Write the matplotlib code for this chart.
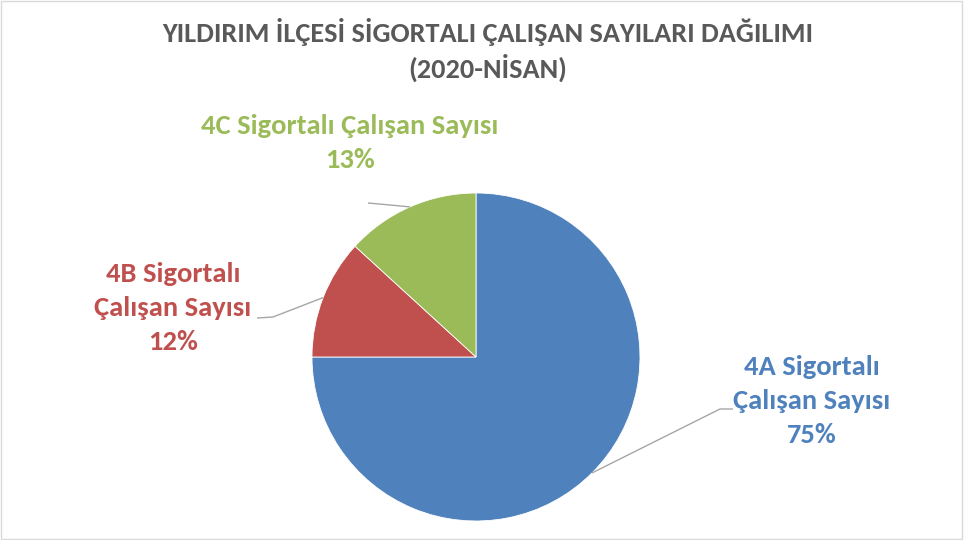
import matplotlib
matplotlib.use("Agg")
import matplotlib.pyplot as plt
import numpy as np

title = "YILDIRIM İLÇESİ SİGORTALI ÇALIŞAN SAYILARI DAĞILIMI\n(2020-NİSAN)"
categories = ["4A Sigortalı\nÇalışan Sayısı", "4B Sigortalı\nÇalışan Sayısı", "4C Sigortalı Çalışan Sayısı"]
values = [75.0, 11.8, 13.2]
percent_labels = ["75%", "12%", "13%"]
colors = ["#4F81BD", "#C0504D", "#9BBB59"]

W, H = 971, 540
fig = plt.figure(figsize=(W / 100, H / 100), dpi=100)
ax = fig.add_axes([0, 0, 1, 1])

FONT = ["Carlito", "Liberation Sans Narrow", "DejaVu Sans"]

cx, cy, r = 476, H - 357, 164
wedges, _ = ax.pie(values, colors=colors, startangle=90, counterclock=False,
                   center=(cx, cy), radius=r, frame=True,
                   wedgeprops=dict(edgecolor="white", linewidth=0.6))
ax.set_xlim(0, W)
ax.set_ylim(0, H)
ax.set_aspect("equal")
ax.axis("off")

# label positions (pixel space), elbows
label_pos = [(812, H - 401), (173, H - 308), (350, H - 143)]
elbows = [[(720, H - 409), (733, H - 409)],
          [(273, H - 317), (257, H - 318)],
          [(390, H - 205), (368, H - 203)]]

for w, lab, pct, col, pos, elb in zip(wedges, categories, percent_labels, colors, label_pos, elbows):
    mid = np.deg2rad((w.theta1 + w.theta2) / 2)
    ex, ey = cx + r * np.cos(mid), cy + r * np.sin(mid)
    xs = [ex] + [p[0] for p in elb]
    ys = [ey] + [p[1] for p in elb]
    ax.plot(xs, ys, color="#A6A6A6", lw=1.0, solid_capstyle="butt")
    ax.text(pos[0], pos[1], lab + "\n" + pct, color=col, ha="center", va="center",
            fontsize=20.5, fontweight="bold", family=FONT, linespacing=1.5)

ax.text(487.5, H - 50, title, color="#595959", ha="center", va="center",
        fontsize=20.3, fontweight="bold", family=FONT, linespacing=1.36)

# chart frame
ax.add_patch(plt.Rectangle((1, 1), W - 10, H - 2, fill=False, ec="#D9D9D9", lw=1))

fig.savefig("out.png", dpi=100)
